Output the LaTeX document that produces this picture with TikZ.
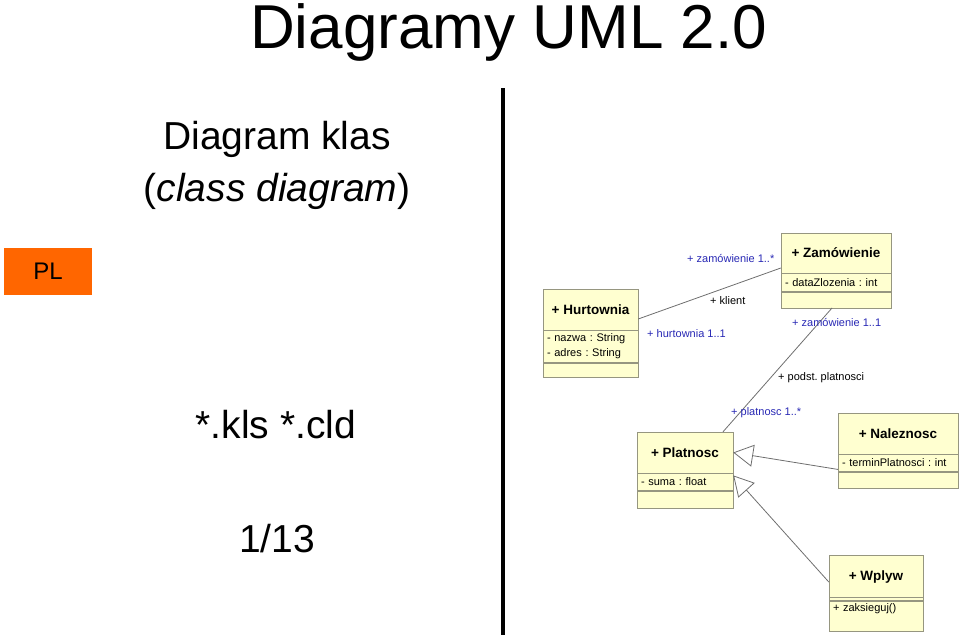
\documentclass[tikz,border=0pt]{standalone}
\usepackage{fontspec}
\setmainfont{Liberation Sans}
\usetikzlibrary{positioning,arrows.meta}
\definecolor{boxfill}{RGB}{255,255,208}
\definecolor{boxline}{RGB}{150,150,128}
\definecolor{roleblue}{RGB}{40,40,180}
\definecolor{plorange}{RGB}{255,102,0}
\definecolor{wireg}{RGB}{110,110,110}
\AtBeginDocument{\frenchspacing}

\begin{document}
\begin{tikzpicture}[x=1pt, y=-1pt,
        classhead/.style={draw=boxline, fill=boxfill, inner sep=0pt, minimum height=41pt, text height=10pt, text depth=1pt, font=\bfseries\fontsize{13.5}{16}\selectfont},
        classpart/.style={draw=boxline, fill=boxfill, inner xsep=4pt, inner ysep=0pt, align=left, font=\fontsize{11}{15}\selectfont},
        role/.style={anchor=base west, inner sep=0pt, text=roleblue, font=\fontsize{11}{13}\selectfont},
        rolename/.style={role, text=black},
        assoc/.style={draw=wireg, line width=0.8pt},
        inherit/.style={assoc, -{Triangle[open, length=20pt, width=22pt]}},
        bigtext/.style={anchor=base, inner sep=0pt, font=\fontsize{39}{44}\selectfont}]
        \useasboundingbox (0,0) rectangle (960,635);

        \node[anchor=base west, inner sep=0pt, text height=46pt, font=\fontsize{62}{70}\selectfont] (title) at (250,48) {Diagramy UML 2.0};
        \node[bigtext] (kind) at (277,149) {Diagram klas};
        \node[bigtext] (kinden) at (277,201) {(\textit{class diagram})};
        \node[fill=plorange, minimum width=88pt, minimum height=47pt, inner sep=0pt, font=\fontsize{24}{28}\selectfont] (pl) at (48,271.5) {PL};
        \node[bigtext] (ext) at (276,438) {*.kls *.cld};
        \node[bigtext] (page) at (277,552) {1/13};

        \draw[line width=4pt] (503,88) -- (503,635);

        \node[classhead, minimum width=95pt] (hurt) at (590.5,309.5) {+ Hurtownia};
        \node[classpart, text width=87pt, minimum height=32pt, below=0pt of hurt] (hurt-a) {- nazwa : String\\- adres : String};
        \node[classpart, text width=87pt, minimum height=14pt, below=0pt of hurt-a] (hurt-o) {};

        \node[classhead, minimum width=110pt, minimum height=40pt] (zam) at (836,253) {+ Zamówienie};
        \node[classpart, text width=102pt, minimum height=18pt, below=0pt of zam] (zam-a) {- dataZlozenia : int};
        \node[classpart, text width=102pt, minimum height=16pt, below=0pt of zam-a] (zam-o) {};

        \node[classhead, minimum width=96pt] (plat) at (685,452.5) {+ Platnosc};
        \node[classpart, text width=88pt, minimum height=17pt, below=0pt of plat] (plat-a) {- suma : float};
        \node[classpart, text width=88pt, minimum height=17pt, below=0pt of plat-a] (plat-o) {};

        \node[classhead, minimum width=120pt] (nal) at (898,433.5) {+ Naleznosc};
        \node[classpart, text width=112pt, minimum height=17pt, below=0pt of nal] (nal-a) {- terminPlatnosci : int};
        \node[classpart, text width=112pt, minimum height=16pt, below=0pt of nal-a] (nal-o) {};

        \node[classhead, minimum width=94pt, minimum height=42pt] (wply) at (876,576) {+ Wplyw};
        \node[classpart, text width=86pt, minimum height=3pt, below=0pt of wply] (wply-a) {};
        \node[classpart, text width=86pt, minimum height=30pt, text height=10pt, text depth=19pt, below=0pt of wply-a] (wply-o) {+ zaksieguj()};

        \draw[assoc] ([yshift=-9.5pt]hurt.east) -- ([yshift=-15pt]zam.west);
        \draw[assoc] ([xshift=-4pt]zam-o.south) -- ([xshift=38pt]plat.north);
        \draw[inherit] ([yshift=-6.5pt]nal-a.west) -- (plat.east);
        \draw[inherit] ([yshift=-6pt]wply.west) -- ([yshift=6.5pt]plat-a.east);

        \node[role] (r-zam1) at (687,262) {+ zamówienie 1..*};
        \node[rolename] (r-kl) at (710,304) {+ klient};
        \node[role] (r-hurt) at (647,337) {+ hurtownia 1..1};
        \node[role] (r-zam2) at (792,326) {+ zamówienie 1..1};
        \node[rolename] (r-podst) at (778,380) {+ podst. platnosci};
        \node[role] (r-plat) at (731,415) {+ platnosc 1..*};
    \end{tikzpicture}
\end{document}
